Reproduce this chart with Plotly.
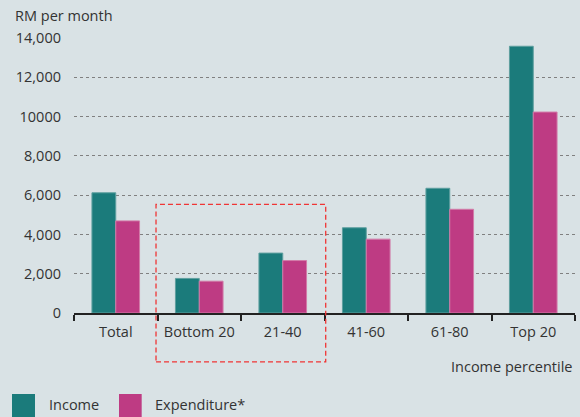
import plotly.graph_objects as go

categories = ["Total", "Bottom 20", "21-40", "41-60", "61-80", "Top 20"]
income = [6120, 1760, 3050, 4340, 6350, 13580]
expenditure = [4690, 1620, 2670, 3760, 5280, 10230]
series_names = ["Income", "Expenditure*"]
y_tickvals = [0, 2000, 4000, 6000, 8000, 10000, 12000, 14000]
y_ticktext = ["0", "2,000", "4,000", "6,000", "8,000", "10000", "12,000", "14,000"]
y_title = "RM per month"
x_title = "Income percentile"

TEAL = "#1B7B7B"
PINK = "#BE3B83"
BG = "#D9E2E5"
TXT = "#333333"
FONT = "Open Sans"
FS = 14.5

fig = go.Figure()
fig.add_trace(go.Bar(x=categories, y=income, name=series_names[0],
                     marker=dict(color=TEAL, line=dict(color="#5E9F9F", width=1))))
fig.add_trace(go.Bar(x=categories, y=expenditure, name=series_names[1],
                     marker=dict(color=PINK, line=dict(color="#D27BA8", width=1))))

fig.update_layout(
    width=580, height=417,
    margin=dict(l=74, r=5, t=38, b=104),
    paper_bgcolor=BG, plot_bgcolor=BG,
    barmode="group", bargap=0.43, bargroupgap=0,
    showlegend=False,
    font=dict(family=FONT, size=FS, color=TXT),
)
fig.update_yaxes(
    range=[0, 14000], tickvals=y_tickvals, ticktext=y_ticktext,
    showgrid=True, gridcolor="#808080", griddash="dot", gridwidth=1,
    zeroline=False, showline=False, ticks="", ticklabelstandoff=12,
    tickfont=dict(size=FS, color=TXT),
)
fig.update_xaxes(
    showline=True, linecolor="#222222", linewidth=1.5,
    ticks="outside", tickson="boundaries", ticklen=6, tickcolor="#222222", tickwidth=1.5,
    ticklabelstandoff=5,
    tickfont=dict(size=FS, color=TXT), showgrid=False,
)

# dashed highlight box
fig.add_shape(type="rect", xref="paper", yref="paper",
              x0=0.1637, x1=0.5024, y0=-0.178, y1=0.395,
              line=dict(color="#F03535", width=1.3, dash="5px,3px"))

# axis titles
fig.add_annotation(text=y_title, xref="paper", yref="paper", x=-0.122, y=1.083,
                   xanchor="left", yanchor="middle", showarrow=False,
                   font=dict(size=FS, color=TXT))
fig.add_annotation(text=x_title, xref="paper", yref="paper", x=1.0, y=-0.193,
                   xanchor="right", yanchor="middle", showarrow=False,
                   font=dict(size=FS, color=TXT))

# custom legend
legend_items = [(series_names[0], TEAL, -0.1238, -0.0778, -0.0545),
                (series_names[1], PINK, 0.0898, 0.1351, 0.157)]
for name, col, x0, x1, tx in legend_items:
    fig.add_shape(type="rect", xref="paper", yref="paper", x0=x0, x1=x1,
                  y0=-0.385, y1=-0.2945, fillcolor=col, line=dict(width=0))
    fig.add_annotation(text=name, xref="paper", yref="paper", x=tx, y=-0.331,
                       xanchor="left", yanchor="middle", showarrow=False,
                       font=dict(size=FS, color=TXT))

fig.write_html("out.html", config={"displayModeBar": False},
               post_script="document.body.style.margin='0';document.body.style.overflow='hidden';")
